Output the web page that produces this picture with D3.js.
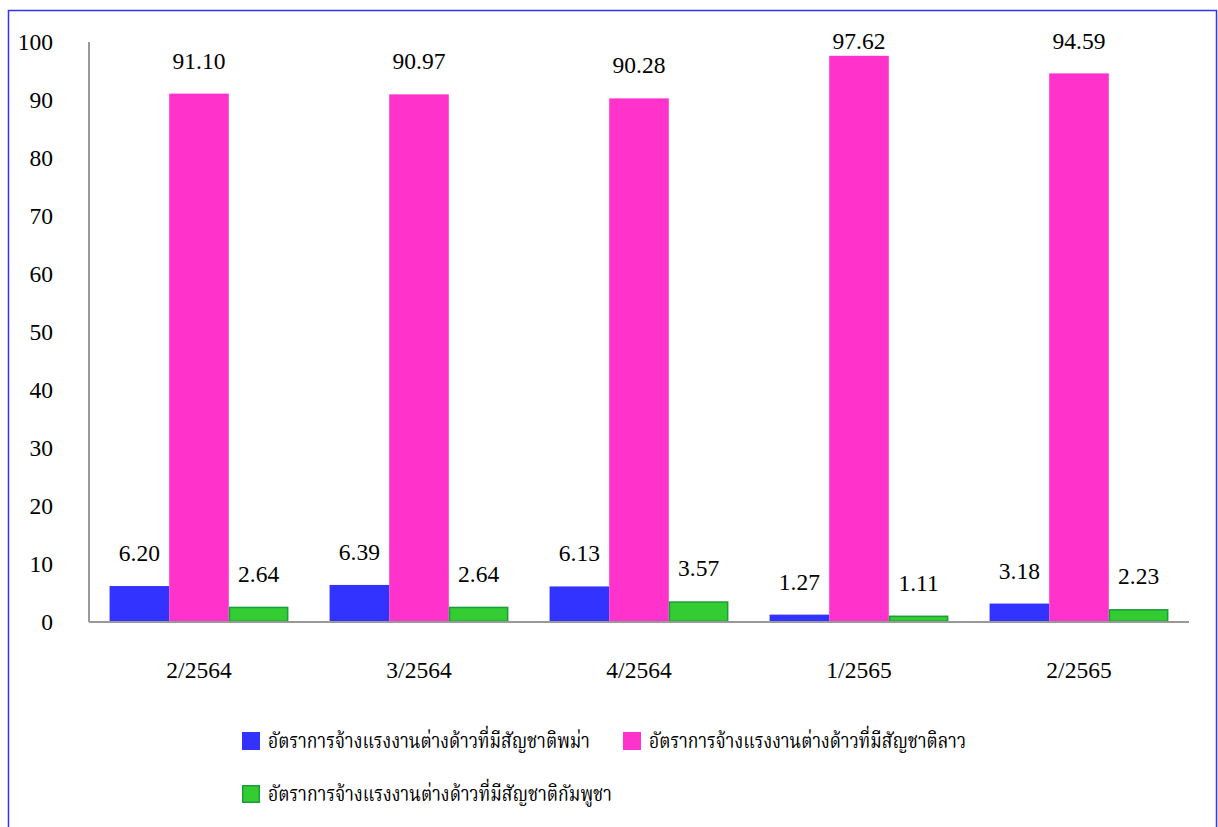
<!DOCTYPE html>
<html><head><meta charset="utf-8">
<script src="https://cdn.jsdelivr.net/npm/d3@7"></script>
<style>
html,body{margin:0;padding:0;background:#fff;}
svg{display:block;}
</style></head>
<body>
<svg id="chart" width="1218" height="827"></svg>
<script>
const categories = ["2/2564","3/2564","4/2564","1/2565","2/2565"];
const seriesNames = ["อัตราการจ้างแรงงานต่างด้าวที่มีสัญชาติพม่า","อัตราการจ้างแรงงานต่างด้าวที่มีสัญชาติลาว","อัตราการจ้างแรงงานต่างด้าวที่มีสัญชาติกัมพูชา"];
const myanmar = [6.20, 6.39, 6.13, 1.27, 3.18];
const laos = [91.10, 90.97, 90.28, 97.62, 94.59];
const cambodia = [2.64, 2.64, 3.57, 1.11, 2.23];
const yTicks = [0,10,20,30,40,50,60,70,80,90,100];

(function(){
const FONT = '"Liberation Serif","Noto Serif Thai",serif';
const THAI_FONT = '"Noto Serif Thai","Norasi","Kinnari","Liberation Serif",serif';
const FS = 23.5;
const colors = ["#3333ff","#ff33cc","#33cc33"];
const strokes = ["#3333ff","#ff33cc","#1a9e3a"];
const series = [myanmar, laos, cambodia];

const svg = d3.select("#chart");
svg.append("rect").attr("x",8.5).attr("y",10.5).attr("width",1208).attr("height",830)
  .attr("fill","none").attr("stroke","#3333ff").attr("stroke-width",1.5);

const pLeft = 89, pRight = 1189, pTop = 42, pBottom = 622;
const x0 = d3.scaleBand().domain(categories).range([pLeft,pRight]).paddingInner(0.187).paddingOuter(0.0935);
const x1 = d3.scaleBand().domain([0,1,2]).range([0,x0.bandwidth()]);
const y = d3.scaleLinear().domain([0,100]).range([pBottom,pTop]);

svg.append("g").selectAll("text").data(yTicks).join("text")
  .style("font-family",FONT)
  .attr("x",53).attr("y",d=>y(d)).attr("dy","0.35em").attr("text-anchor","end")
  .attr("font-size",FS).text(d=>d);

categories.forEach((c,i)=>{
  series.forEach((s,j)=>{
    const bx = x0(c)+x1(j), bw = x1.bandwidth();
    const g = j==2?0.75:0;
    svg.append("rect").attr("x",bx+g).attr("y",y(s[i])+g)
      .attr("width",bw-2*g).attr("height",Math.max(0,pBottom-y(s[i])-2*g))
      .attr("fill",colors[j]).attr("stroke",j==2?strokes[j]:"none").attr("stroke-width",1.5);
    svg.append("text").style("font-family",FONT).attr("x",bx+bw/2)
      .attr("y",Math.max(49, y(s[i])-25)).attr("text-anchor","middle")
      .attr("font-size",FS).text(s[i].toFixed(2));
  });
});

svg.append("line").attr("x1",pLeft).attr("x2",pLeft).attr("y1",pTop).attr("y2",pBottom)
  .attr("stroke","#999").attr("stroke-width",2);
svg.append("line").attr("x1",pLeft).attr("x2",pRight).attr("y1",pBottom).attr("y2",pBottom)
  .attr("stroke","#999").attr("stroke-width",2);

svg.append("g").selectAll("text").data(categories).join("text")
  .style("font-family",FONT)
  .attr("x",d=>x0(d)+x0.bandwidth()/2).attr("y",678).attr("text-anchor","middle")
  .attr("font-size",FS).text(d=>d);

const legendPos = [[242,741],[623,741],[242,794]];
const legendLen = [322,317,344];
seriesNames.forEach((n,j)=>{
  const [lx,ly] = legendPos[j];
  const g = j==2?0.75:0;
  svg.append("rect").attr("x",lx+g).attr("y",ly-9+g).attr("width",18-2*g).attr("height",18-2*g)
    .attr("fill",colors[j]).attr("stroke",j==2?strokes[j]:"none").attr("stroke-width",1.5);
  svg.append("text").style("font-family",THAI_FONT).attr("x",lx+26).attr("y",ly).attr("dy","0.35em")
    .attr("font-size",21).attr("textLength",legendLen[j]).attr("lengthAdjust","spacingAndGlyphs").text(n);
});
})();
</script>
</body></html>
